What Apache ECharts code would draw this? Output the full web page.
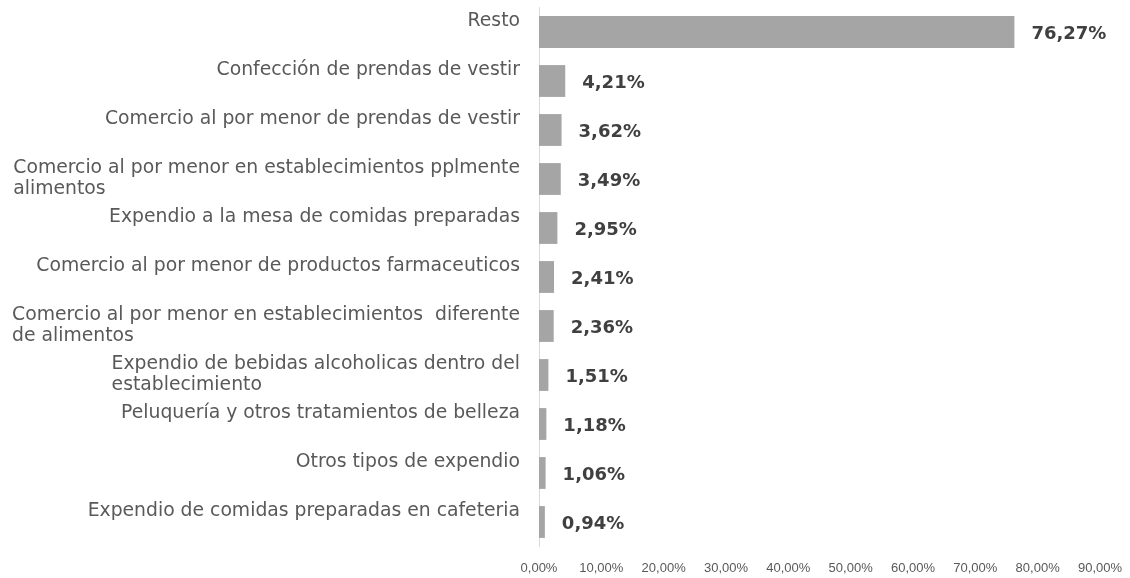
<!DOCTYPE html>
<html>
<head>
<meta charset="utf-8">
<script src="https://cdn.jsdelivr.net/npm/echarts@6/dist/echarts.min.js"></script>
<style>
  html, body { margin: 0; padding: 0; background: #fff; }
  #chart { width: 1130px; height: 578px; }
</style>
</head>
<body>
<div id="chart"></div>
<script>
// categorías (de arriba a abajo)
const categories = [
  'Resto',
  'Confección de prendas de vestir',
  'Comercio al por menor de prendas de vestir',
  'Comercio al por menor en establecimientos pplmente\nalimentos',
  'Expendio a la mesa de comidas preparadas',
  'Comercio al por menor de productos farmaceuticos',
  'Comercio al por menor en establecimientos  diferente\nde alimentos',
  'Expendio de bebidas alcoholicas dentro del\nestablecimiento',
  'Peluquería y otros tratamientos de belleza',
  'Otros tipos de expendio',
  'Expendio de comidas preparadas en cafeteria'
]
const values = [76.27, 4.21, 3.62, 3.49, 2.95, 2.41, 2.36, 1.51, 1.18, 1.06, 0.94]
const xTicks = [0, 10, 20, 30, 40, 50, 60, 70, 80, 90]

const pct = (v) => v.toFixed(2).replace('.', ',') + '%'

const chart = echarts.init(document.getElementById('chart'))

// etiquetas del eje: las de una línea van un poco más arriba, las de dos líneas alineadas a la izquierda
const catLabel = (value) => {
  const lines = value.split('\n')
  if (lines.length === 1) return '{r|' + value + '}'
  return lines.map(l => '{l|' + l + '}').join('\n')
}

chart.setOption({
  animation: false,
  grid: { left: 539, right: 30, top: 7.5, bottom: 31.5 },
  xAxis: {
    type: 'value',
    min: xTicks[0],
    max: xTicks[xTicks.length - 1],
    interval: 10,
    axisLine: { show: false },
    axisTick: { show: false },
    splitLine: { show: false },
    axisLabel: {
      margin: 15,
      color: '#595959',
      fontFamily: 'Liberation Sans',
      fontSize: 13,
      formatter: (v) => pct(v)
    }
  },
  yAxis: {
    type: 'category',
    inverse: true,
    data: categories,
    axisLine: { show: true, lineStyle: { color: '#d9d9d9', width: 1 } },
    axisTick: { show: false },
    axisLabel: {
      margin: 19,
      formatter: catLabel,
      rich: {
        r: {
          color: '#595959', fontFamily: 'DejaVu Sans', fontSize: 18.8,
          align: 'right', padding: [0, 0, 22, 0]
        },
        l: {
          color: '#595959', fontFamily: 'DejaVu Sans', fontSize: 18.8,
          align: 'left', lineHeight: 21
        }
      }
    }
  },
  series: [{
    type: 'bar',
    data: values,
    barCategoryGap: '35%',
    itemStyle: { color: '#a5a5a5' },
    label: {
      show: true,
      position: 'right',
      distance: 17,
      offset: [0, 2],
      color: '#404040',
      fontFamily: 'DejaVu Sans',
      fontWeight: 'bold',
      fontSize: 18,
      formatter: (p) => pct(p.value)
    }
  }]
})
</script>
</body>
</html>
